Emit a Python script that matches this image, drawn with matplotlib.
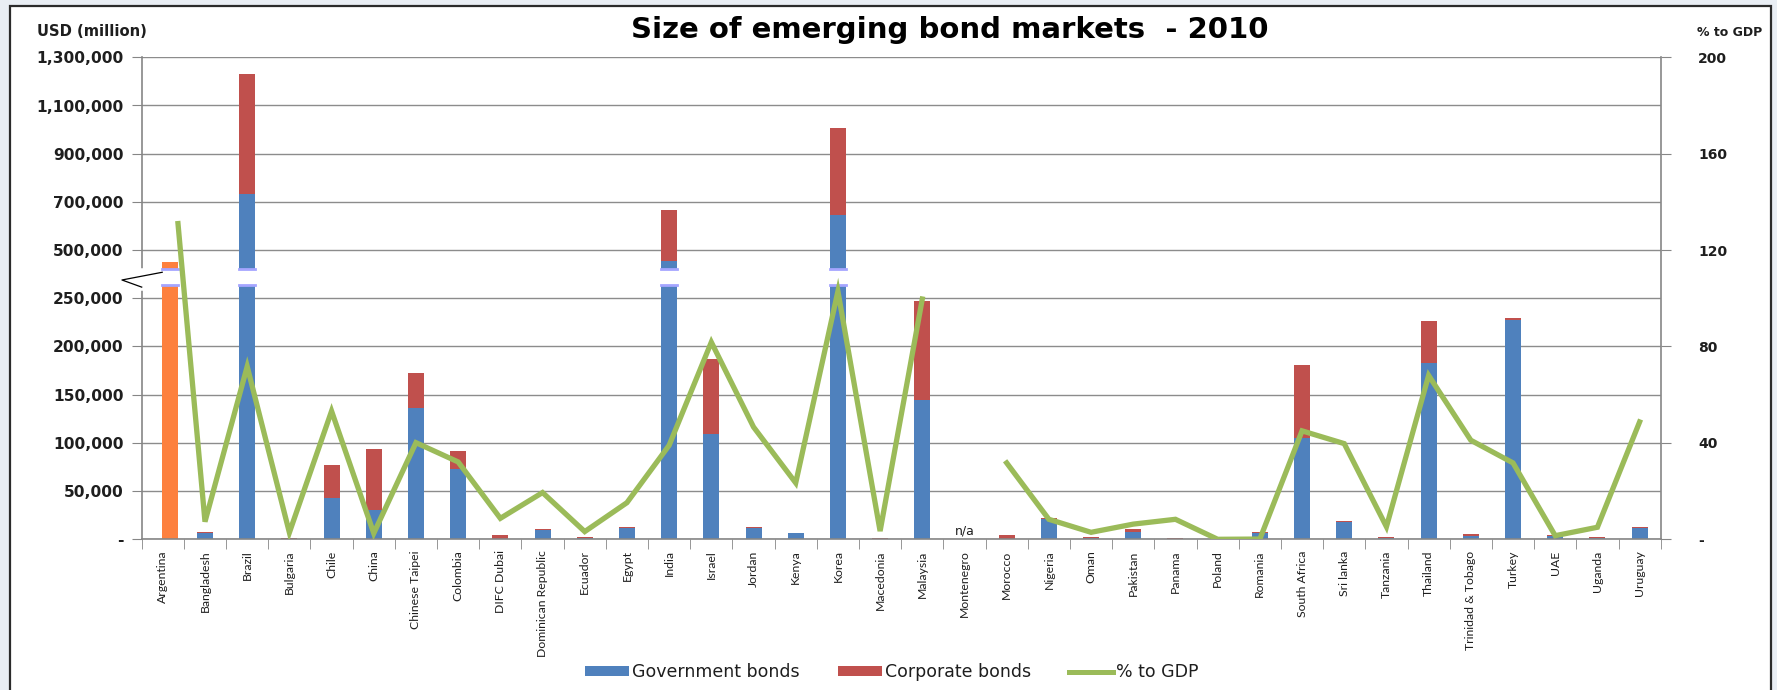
import numpy as np
import matplotlib
matplotlib.use("Agg")
import matplotlib.pyplot as plt
import matplotlib.transforms as mtransforms
from matplotlib.patches import Rectangle, Patch
from matplotlib.lines import Line2D
from matplotlib import font_manager

# USD million (Montenegro is n/a)
countries = [
    "Argentina", "Bangladesh", "Brazil", "Bulgaria", "Chile", "China",
    "Chinese Taipei", "Colombia", "DIFC Dubai", "Dominican Republic",
    "Ecuador", "Egypt", "India", "Israel", "Jordan", "Kenya", "Korea",
    "Macedonia", "Malaysia", "Montenegro", "Morocco", "Nigeria", "Oman",
    "Pakistan", "Panama", "Poland", "Romania", "South Africa", "Sri lanka",
    "Tanzania", "Thailand", "Trinidad & Tobago", "Turkey", "UAE", "Uganda",
    "Uruguay",
]
government = [
    440000, 6900, 732000, 300, 43000, 30300,
    136600, 73400, 0, 9700,
    1300, 11700, 444000, 109700, 11700, 6200, 646000,
    300, 144100, np.nan, 0, 21000, 1400,
    7900, 0, 0, 6200, 105200, 18300,
    1000, 182800, 3100, 227900, 3800, 1000,
    11700,
]
corporate = [
    0, 1000, 498000, 1400, 34000, 63800,
    35800, 18000, 4800, 1000,
    1000, 1100, 222000, 76900, 1100, 700, 360000,
    1100, 103500, np.nan, 4800, 1000, 1000,
    2400, 1400, 1000, 1000, 75800, 1000,
    1400, 44100, 2800, 1400, 1000, 1000,
    700,
]
pct_gdp = [
    131.0, 7.3, 71.7, 2.8, 53.2, 2.5,
    40.1, 32.1, 8.7, 19.4,
    3.2, 15.2, 39.0, 81.8, 46.6, 23.4, 102.9,
    3.4, 99.7, np.nan, 31.7, 8.3, 2.9,
    6.3, 8.3, 0.0, 0.1, 45.0, 39.7,
    5.2, 68.0, 41.1, 31.7, 1.5, 5.0,
    48.7,
]

left_ticks = [0, 50000, 100000, 150000, 200000, 250000,
              500000, 700000, 900000, 1100000, 1300000]
right_ticks = [0, 40, 80, 120, 160, 200]

BLUE = "#4F81BD"
RED = "#C0504D"
GREEN = "#9BBB59"
ORANGE = "#FD803E"
GRID = "#8C8C8C"
AXIS = "#868686"
TXT = "#1E1E1E"

# broken axis: 0-250k and 500k-1.3M linear, 250k-500k squeezed into one step
brk_vals = [0, 250000, 500000, 1300000]
brk_units = [0, 5, 6, 10]


def fwd(v):
    return np.interp(v, brk_vals, brk_units)


def inv(u):
    return np.interp(u, brk_units, brk_vals)


# narrow font for the category names if there is one
try:
    font_manager.findfont(font_manager.FontProperties(family="Liberation Sans Narrow"),
                          fallback_to_default=False)
    xlab_font, xlab_size = "Liberation Sans Narrow", 9.5
except ValueError:
    xlab_font, xlab_size = "Lato", 8.8

gov = np.array(government, dtype=float)
corp = np.array(corporate, dtype=float)
pct = np.array(pct_gdp, dtype=float)
x = np.arange(len(countries), dtype=float)

fig = plt.figure(figsize=(17.77, 6.9), dpi=100, facecolor="#E9EEF4")
fig.patches.append(Rectangle((10 / 1777, -0.1), 1761 / 1777, 1.1 - 6 / 690,
                             transform=fig.transFigure, facecolor="white",
                             edgecolor="#2B2B2B", lw=1.6, zorder=-1))

ax = fig.add_axes([141.7 / 1777, 1 - 539.3 / 690, 1519 / 1777, 482 / 690])
ax.set_yscale("function", functions=(fwd, inv))
ax.set_ylim(0, 1300000)
ax.set_xlim(-0.5, len(countries) - 0.5)

bar_x = x.copy()
bar_x[0] += 0.18  # Argentina bar sits right of its slot in the original
w = 0.38
gov_colors = [ORANGE] + [BLUE] * (len(countries) - 1)
ax.bar(bar_x, np.nan_to_num(gov), w, color=gov_colors, zorder=2)
ax.bar(bar_x, np.nan_to_num(corp), w, bottom=np.nan_to_num(gov), color=RED, zorder=2)

# white cut across bars that run through the axis break
gap_lo, gap_hi = 318000, 400000
total = np.nan_to_num(gov) + np.nan_to_num(corp)
cut = total > gap_hi
ax.bar(bar_x[cut], gap_hi - gap_lo, w + 0.02, bottom=gap_lo, color="white", zorder=3)
for xc in bar_x[cut]:
    ax.plot([xc - w / 2, xc + w / 2], [gap_lo, gap_lo], color="#A5A5FF", lw=2, zorder=4)
    ax.plot([xc - w / 2, xc + w / 2], [gap_hi, gap_hi], color="#A5A5FF", lw=2, zorder=4)

ax.text(19, 9000, "n/a", ha="center", va="center", fontsize=9, color=TXT)

ax.set_yticks(left_ticks)
ax.set_yticklabels(["-" if t == 0 else f"{t:,}" for t in left_ticks],
                   fontsize=11.2, fontweight="bold", color=TXT)
ax.yaxis.set_minor_locator(matplotlib.ticker.NullLocator())
ax.tick_params(axis="y", length=7, color=AXIS, pad=6)
ax.grid(axis="y", color=GRID, lw=1)
ax.set_axisbelow(True)

ax.set_xticks(x)
ax.set_xticklabels(countries, rotation=90, fontsize=xlab_size, family=xlab_font,
                   color=TXT, va="top")
ax.set_xticks(np.arange(-0.5, len(countries)), minor=True)
ax.tick_params(axis="x", which="major", length=0, pad=8)
ax.tick_params(axis="x", which="minor", length=7, color=AXIS)

for s in ("left", "bottom"):
    ax.spines[s].set_color(AXIS)
    ax.spines[s].set_linewidth(1.2)
ax.spines["top"].set_visible(False)
ax.spines["right"].set_visible(False)

# break mark on the left axis
bt = mtransforms.blended_transform_factory(ax.transAxes, ax.transData)
ax.plot([0, 0], [305000, 390000], color="white", lw=4, transform=bt, clip_on=False, zorder=6)
ax.plot([0.0135, -0.013, 0.0], [385000, 345000, 308000], color="black", lw=0.9,
        transform=bt, clip_on=False, zorder=7)

ax2 = ax.twinx()
line_x = x.copy()
line_x[0] += 0.36
ax2.plot(line_x, pct, color=GREEN, lw=3.8, solid_joinstyle="miter", zorder=5)
ax2.set_ylim(0, 200)
ax2.set_yticks(right_ticks)
ax2.set_yticklabels(["-" if t == 0 else str(t) for t in right_ticks],
                    fontsize=10, fontweight="bold", color=TXT)
ax2.tick_params(axis="y", length=7, color=AXIS, pad=20)
for s in ("left", "top", "bottom"):
    ax2.spines[s].set_visible(False)
ax2.spines["right"].set_color(AXIS)
ax2.spines["right"].set_linewidth(1.2)

fig.text(950 / 1777, 1 - 30 / 690, "Size of emerging bond markets  - 2010",
         ha="center", va="center", fontsize=21, fontweight="bold", color="black")
fig.text(37 / 1777, 1 - 32 / 690, "USD (million)", ha="left", va="center",
         fontsize=10.6, fontweight="bold", color=TXT)
fig.text(1697 / 1777, 1 - 32 / 690, "% to GDP", ha="left", va="center",
         fontsize=9, fontweight="bold", color=TXT)

handles = [
    Patch(facecolor=BLUE, label="Government bonds"),
    Patch(facecolor=RED, label="Corporate bonds"),
    Line2D([], [], color=GREEN, lw=3.6, label="% to GDP"),
]
fig.legend(handles=handles, loc="center", bbox_to_anchor=(0.502, 0.026), ncol=3,
           frameon=False, fontsize=12.5, handlelength=2.5, handleheight=0.5,
           handletextpad=0.2, columnspacing=2.2, labelcolor=TXT)

fig.savefig("out.png", dpi=100, facecolor=fig.get_facecolor())
